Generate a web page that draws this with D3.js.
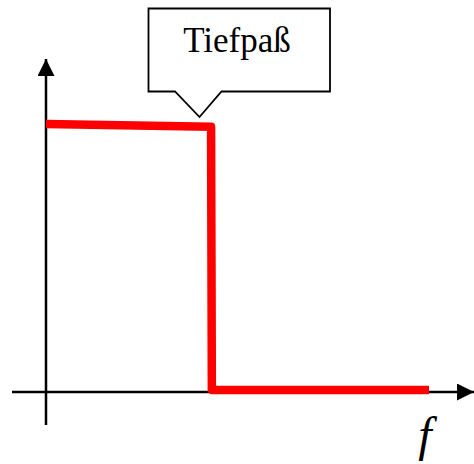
<!DOCTYPE html>
<html><head><meta charset="utf-8">
<script src="https://cdnjs.cloudflare.com/ajax/libs/d3/7.8.5/d3.min.js"></script>
<style>html,body{margin:0;padding:0;background:#fff;}svg{display:block;}</style>
</head><body>
<script>
// Data: ideal low-pass response (normalized frequency, amplitude)
const freq = [0, 0.431, 0.433, 1];
const amplitude = [1, 0.99, 0, 0];
const calloutLabel = "Tiefpaß";
const axisLabel = "f";

const W = 474, H = 464;
const serif = "Liberation Serif";
const svg = d3.select("body").append("svg").attr("width", W).attr("height", H);

const x = d3.scaleLinear().domain([0, 1]).range([46, 429]);
const y = d3.scaleLinear().domain([0, 1]).range([390, 124]);

// arrow markers
const defs = svg.append("defs");
defs.append("marker").attr("id", "arr").attr("viewBox", "0 0 10 10")
  .attr("refX", 10).attr("refY", 5).attr("markerUnits", "userSpaceOnUse")
  .attr("markerWidth", 18).attr("markerHeight", 17).attr("orient", "auto")
  .append("path").attr("d", "M0,0 L10,5 L0,10 Z").attr("fill", "#000");

// axes
svg.append("line").attr("x1", 12).attr("y1", 392).attr("x2", 474).attr("y2", 392)
  .attr("stroke", "#000").attr("stroke-width", 2.5).attr("marker-end", "url(#arr)");
svg.append("line").attr("x1", 46).attr("y1", 425).attr("x2", 46).attr("y2", 59)
  .attr("stroke", "#000").attr("stroke-width", 2.5).attr("marker-end", "url(#arr)");

// response curve
const line = d3.line().x((d, i) => x(freq[i])).y((d, i) => y(amplitude[i]));
svg.append("path").datum(freq).attr("d", line)
  .attr("fill", "none").attr("stroke", "#ff0000").attr("stroke-width", 8.5)
  .attr("stroke-linejoin", "round");

// callout box
const bx0 = 148.5, bx1 = 330, by0 = 8.5, by1 = 91.5;
const p1 = 175, tipX = 199.5, tipY = 117, p2 = 221.5;
svg.append("path")
  .attr("d", `M${bx0},${by0} L${bx1},${by0} L${bx1},${by1} L${p2},${by1} L${tipX},${tipY} L${p1},${by1} L${bx0},${by1} Z`)
  .attr("fill", "#fff").attr("stroke", "#000").attr("stroke-width", 1.8);
svg.append("text").attr("x", 237).attr("y", 52).attr("text-anchor", "middle")
  .style("font-family", serif).style("font-size", "35px")
  .text(calloutLabel);

svg.append("text").attr("x", 425).attr("y", 451).attr("text-anchor", "middle")
  .style("font-family", serif).style("font-style", "italic")
  .style("font-size", "48px").text(axisLabel);
</script>
</body></html>
